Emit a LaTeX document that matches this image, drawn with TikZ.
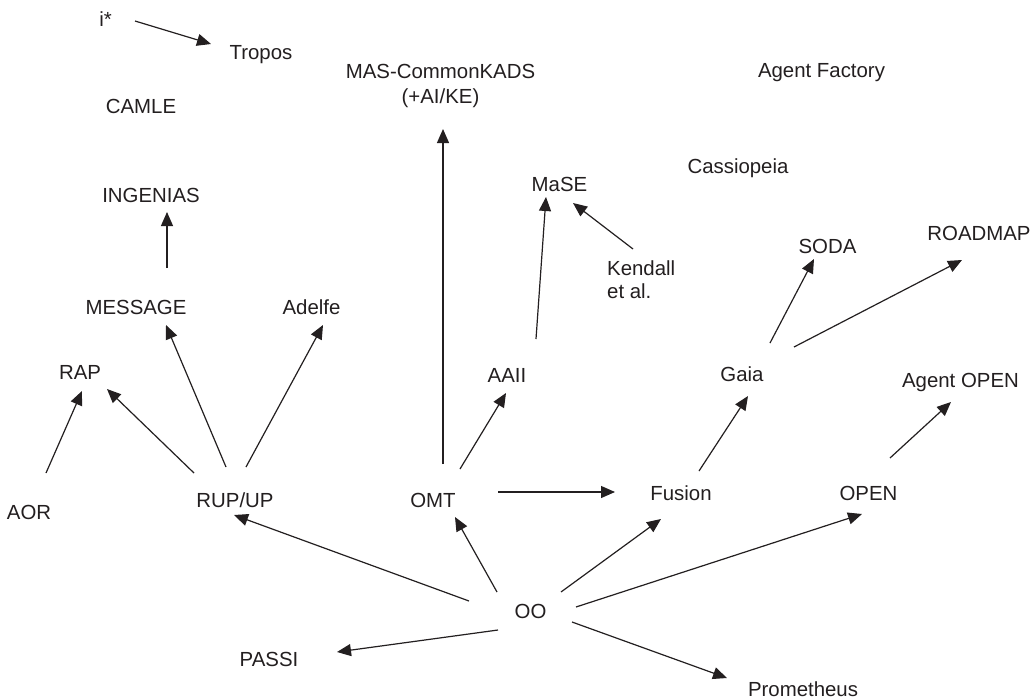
\documentclass[tikz,border=0pt]{standalone}
\usepackage{fontspec}
\setmainfont{Liberation Sans}
\usetikzlibrary{arrows.meta,calc}
\definecolor{ink}{RGB}{35,31,32}
\begin{document}
\begin{tikzpicture}[x=1pt,y=-1pt,
  lbl/.style={anchor=base,inner sep=0pt,text=ink,font=\fontsize{20.4}{25}\selectfont},
  arr/.style={draw=ink,line width=1.2pt,-{Triangle[length=14pt,width=12pt]}}]
\useasboundingbox[fill=white] (0,0) rectangle (1036,699);

% methodologies, placed by text centre and baseline
\node[lbl] (istar)      at (105.5,26)  {i*};
\node[lbl] (tropos)     at (261,59)    {Tropos};
\node[lbl] (camle)      at (141,113)   {CAMLE};
\node[lbl] (ingenias)   at (151,202)   {INGENIAS};
\node[lbl] (mas)        at (440.5,78)  {\begin{tabular}[t]{@{}c@{}}MAS-CommonKADS\\(+AI/KE)\end{tabular}};
\node[lbl] (factory)    at (821.5,77)  {Agent Factory};
\node[lbl] (mase)       at (559.5,191) {MaSE};
\node[lbl] (cassiopeia) at (738,173)   {Cassiopeia};
\node[lbl,anchor=base west,font=\fontsize{20.4}{23}\selectfont] (kendall) at (607,275)
  {\begin{tabular}[t]{@{}l@{}}Kendall\\et al.\end{tabular}};
\node[lbl] (soda)       at (827.5,253) {SODA};
\node[lbl] (roadmap)    at (979,240)   {ROADMAP};
\node[lbl] (message)    at (136,314)   {MESSAGE};
\node[lbl] (adelfe)     at (311.5,314) {Adelfe};
\node[lbl] (rap)        at (80,379)    {RAP};
\node[lbl] (aaii)       at (507,382)   {AAII};
\node[lbl] (gaia)       at (742,381.5) {Gaia};
\node[lbl] (agentopen)  at (960.5,387) {Agent OPEN};
\node[lbl] (aor)        at (29,519)    {AOR};
\node[lbl] (rup)        at (235,507)   {RUP/UP};
\node[lbl] (omt)        at (433,507)   {OMT};
\node[lbl] (fusion)     at (681,500)   {Fusion};
\node[lbl] (open)       at (868.5,500) {OPEN};
\node[lbl] (oo)         at (530.5,618) {OO};
\node[lbl] (passi)      at (269,666)   {PASSI};
\node[lbl] (prometheus) at (803,696)   {Prometheus};

% lineage arrows
\draw[arr] ($(istar.base)+(29.5,-5)$)      -- ($(tropos.base)+(-50,-15)$);
\draw[arr] ($(message.base)+(31,-46)$)     -- ($(ingenias.base)+(16,10)$);
\draw[arr] ($(omt.base)+(10,-43)$)         -- ($(mas.base)+(2.5,51)$);
\draw[arr] ($(aaii.base)+(29,-43)$)        -- ($(mase.base)+(-13.5,6)$);
\draw[arr] ($(kendall.base west)+(26,-26)$) -- ($(mase.base)+(13.5,12)$);
\draw[arr] ($(gaia.base)+(28,-38.5)$)      -- ($(soda.base)+(-13.5,6)$);
\draw[arr] ($(gaia.base)+(52,-34.5)$)      -- ($(roadmap.base)+(-17,20)$);
\draw[arr] ($(fusion.base)+(18,-29)$)      -- ($(gaia.base)+(6,14.5)$);
\draw[arr] ($(open.base)+(21.5,-42)$)      -- ($(agentopen.base)+(-9.5,15)$);
\draw[arr] ($(rup.base)+(-9,-40)$)         -- ($(message.base)+(30,11)$);
\draw[arr] ($(rup.base)+(11,-40)$)         -- ($(adelfe.base)+(11.5,11)$);
\draw[arr] ($(aor.base)+(17,-46)$)         -- ($(rap.base)+(2,12)$);
\draw[arr] ($(rup.base)+(-41,-34)$)        -- ($(rap.base)+(27,10)$);
\draw[arr] ($(oo.base)+(-61.5,-17)$)       -- ($(rup.base)+(-1,8)$);
\draw[arr] ($(oo.base)+(-33.5,-26)$)       -- ($(omt.base)+(22,10)$);
\draw[arr] ($(oo.base)+(-32.5,12)$)        -- ($(passi.base)+(68,-14)$);
\draw[arr] ($(omt.base)+(27,-38)$)         -- ($(aaii.base)+(-1,11)$);
\draw[arr] ($(omt.base)+(65,-15)$)         -- ($(fusion.base)+(-66,-8)$);
\draw[arr] ($(oo.base)+(30.5,-26)$)        -- ($(fusion.base)+(-20,19)$);
\draw[arr] ($(oo.base)+(45.5,-11)$)        -- ($(open.base)+(-6.5,14)$);
\draw[arr] ($(oo.base)+(41.5,4)$)          -- ($(prometheus.base)+(-76,-18)$);
\end{tikzpicture}
\end{document}
